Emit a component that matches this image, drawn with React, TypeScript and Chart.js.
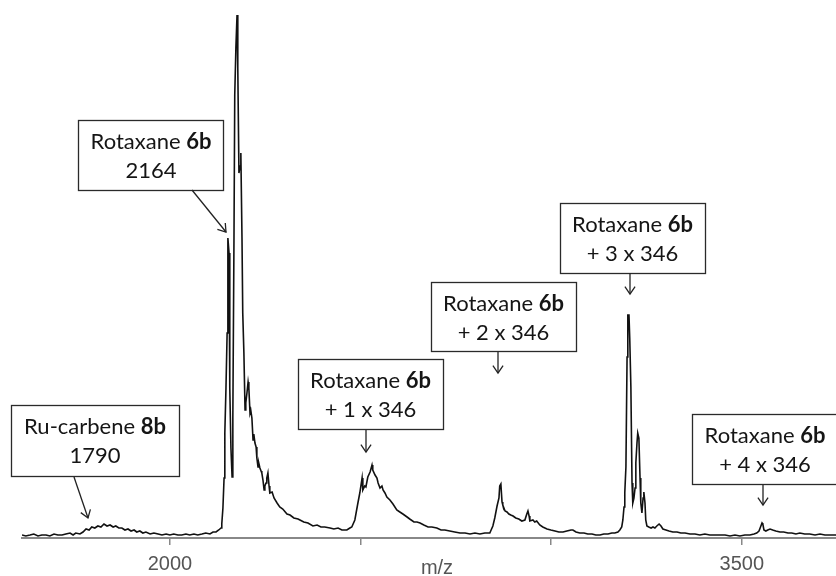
import React, { useEffect, useRef } from "react";
import { Chart, registerables } from "chart.js";

Chart.register(...registerables);

// m/z sampling positions of the spectrum trace
const mz = [
  1612, 1622, 1633, 1643, 1654, 1664, 1675, 1685, 1696, 1706,
  1717, 1727, 1738, 1746, 1753, 1764, 1772, 1780, 1788, 1795,
  1803, 1811, 1819, 1827, 1835, 1843, 1851, 1858, 1866, 1874,
  1882, 1890, 1898, 1906, 1913, 1921, 1929, 1937, 1948, 1958,
  1969, 1979, 1990, 2000, 2010, 2021, 2031, 2042, 2052, 2063,
  2073, 2084, 2094, 2105, 2113, 2121, 2128, 2134, 2136, 2139,
  2142, 2144, 2147, 2150, 2152, 2155, 2157, 2160, 2163, 2165,
  2168, 2170, 2173, 2176, 2178, 2181, 2184, 2186, 2189, 2191,
  2194, 2197, 2199, 2202, 2205, 2207, 2210, 2212, 2215, 2218,
  2220, 2223, 2226, 2228, 2231, 2233, 2236, 2239, 2241, 2244,
  2247, 2249, 2252, 2254, 2257, 2260, 2262, 2268, 2273, 2281,
  2288, 2296, 2307, 2315, 2325, 2336, 2341, 2351, 2362, 2375,
  2386, 2396, 2406, 2420, 2430, 2441, 2451, 2464, 2472, 2477,
  2485, 2493, 2498, 2504, 2506, 2511, 2514, 2519, 2525, 2530,
  2532, 2538, 2543, 2546, 2551, 2556, 2559, 2564, 2569, 2577,
  2585, 2595, 2603, 2611, 2622, 2629, 2640, 2648, 2656, 2666,
  2677, 2687, 2700, 2711, 2721, 2734, 2747, 2761, 2774, 2787,
  2800, 2813, 2826, 2839, 2847, 2852, 2858, 2863, 2865, 2868,
  2871, 2873, 2879, 2884, 2889, 2894, 2900, 2907, 2915, 2923,
  2931, 2936, 2939, 2942, 2944, 2952, 2957, 2962, 2970, 2978,
  2989, 2999, 3010, 3020, 3031, 3041, 3052, 3057, 3065, 3075,
  3086, 3096, 3107, 3117, 3128, 3138, 3149, 3159, 3167, 3175,
  3180, 3185, 3188, 3191, 3193, 3196, 3199, 3201, 3204, 3206,
  3209, 3212, 3214, 3217, 3220, 3222, 3225, 3227, 3230, 3233,
  3235, 3238, 3241, 3243, 3246, 3248, 3251, 3256, 3262, 3267,
  3272, 3277, 3283, 3288, 3293, 3301, 3309, 3319, 3330, 3340,
  3351, 3364, 3377, 3390, 3403, 3416, 3429, 3442, 3456, 3469,
  3482, 3495, 3508, 3521, 3532, 3539, 3545, 3550, 3553, 3555,
  3558, 3563, 3568, 3574, 3581, 3589, 3600, 3610, 3621, 3631,
  3642, 3652, 3665, 3678, 3692, 3705, 3718, 3731, 3747,
];

// intensity (arbitrary units) at each m/z position
const intensity = [
  3, 2, 3, 4, 2, 3, 3, 2, 4, 3,
  3, 4, 5, 3, 5, 4, 6, 9, 8, 11,
  10, 12, 11, 14, 12, 13, 11, 12, 10, 10,
  8, 9, 7, 8, 6, 7, 5, 6, 4, 5,
  4, 3, 4, 3, 4, 3, 3, 4, 3, 4,
  3, 4, 5, 4, 6, 6, 8, 10, 14, 30,
  60, 105, 150, 205, 300, 285, 150, 90, 61, 120,
  300, 443, 490, 523, 470, 365, 372, 385, 300, 225,
  185, 128, 135, 145, 156, 150, 125, 128, 120, 98,
  104, 95, 91, 80, 71, 75, 70, 67, 65, 58,
  48, 52, 55, 60, 65, 52, 45, 46, 40, 35,
  31, 29, 24, 23, 20, 19, 18, 16, 15, 12,
  13, 11, 11, 10, 9, 10, 8, 8, 10, 11,
  18, 35, 45, 60, 48, 52, 51, 61, 66, 73,
  68, 63, 60, 55, 50, 52, 48, 45, 41, 38,
  34, 28, 26, 24, 21, 19, 16, 16, 15, 13,
  11, 11, 10, 8, 8, 7, 6, 5, 5, 4,
  5, 4, 5, 5, 12, 20, 32, 40, 52, 54,
  36, 33, 27, 26, 24, 23, 22, 20, 19, 17,
  18, 24, 27, 22, 17, 18, 16, 17, 13, 11,
  9, 8, 7, 6, 6, 7, 8, 8, 6, 5,
  5, 4, 4, 3, 3, 4, 4, 5, 5, 6,
  8, 11, 18, 31, 45, 71, 181, 223, 223, 200,
  151, 55, 35, 40, 50, 75, 95, 105, 100, 60,
  35, 25, 40, 46, 35, 18, 12, 11, 10, 11,
  10, 12, 14, 12, 9, 8, 7, 6, 6, 5,
  5, 4, 4, 3, 4, 3, 3, 3, 3, 2,
  3, 2, 3, 3, 4, 5, 7, 12, 15, 14,
  8, 7, 8, 9, 8, 7, 6, 6, 5, 5,
  4, 5, 4, 4, 3, 4, 3, 3, 3,
];

const xMin = 1612;
const xMax = 3747;
const yMax = 538;
const xTicks = [2000, 2500, 3000, 3500];
const xTickLabels = ["2000", "", "", "3500"];
const xTitle = "m/z";

// annotation texts
const labelNames = ["Rotaxane ", "Ru-carbene ", "Rotaxane ", "Rotaxane ", "Rotaxane ", "Rotaxane "];
const labelBold = ["6b", "8b", "6b", "6b", "6b", "6b"];
const labelSecond = ["2164", "1790", "+ 1 x 346", "+ 2 x 346", "+ 3 x 346", "+ 4 x 346"];

// annotation layout (pixels): box [x, y, w, h], text centre x, arrow [x1, y1, x2, y2]
const boxLayout = [
  [78, 120, 145, 70],
  [11, 405, 168, 71],
  [298, 359, 145, 70],
  [431, 282, 145, 69],
  [560, 203, 145, 70],
  [692, 414, 146, 70],
];
const textCenterX = [151, 95, 370.5, 503.5, 632.5, 765];
const arrowLayout = [
  [192, 190, 226, 232],
  [74, 477, 88, 518],
  [366, 430, 366, 452],
  [498, 352, 498, 373],
  [630, 273, 630, 294],
  [763, 485, 763, 505],
];

function drawArrow(ctx: CanvasRenderingContext2D, x1: number, y1: number, x2: number, y2: number) {
  ctx.beginPath();
  ctx.moveTo(x1, y1);
  ctx.lineTo(x2, y2);
  ctx.stroke();
  const a = Math.atan2(y2 - y1, x2 - x1);
  const L = 9;
  const s = 0.6;
  ctx.beginPath();
  ctx.moveTo(x2 - L * Math.cos(a - s), y2 - L * Math.sin(a - s));
  ctx.lineTo(x2, y2);
  ctx.lineTo(x2 - L * Math.cos(a + s), y2 - L * Math.sin(a + s));
  ctx.stroke();
}

const annotationPlugin = {
  id: "spectrumAnnotations",
  afterDraw(chart: any) {
    const ctx: CanvasRenderingContext2D = chart.ctx;
    ctx.save();
    // axis title
    ctx.fillStyle = "#555";
    ctx.font = "20px 'Liberation Sans', Arial, sans-serif";
    ctx.textAlign = "center";
    ctx.textBaseline = "middle";
    ctx.fillText(xTitle, 437, 568);

    const normalFont = "22px Lato, 'Noto Sans', sans-serif";
    const boldFont = "bold 22px Lato, 'Noto Sans', sans-serif";
    for (let i = 0; i < boxLayout.length; i++) {
      const [bx, by, bw, bh] = boxLayout[i];
      ctx.fillStyle = "#ffffff";
      ctx.fillRect(bx, by, bw, bh);
      ctx.strokeStyle = "#2a2a2a";
      ctx.lineWidth = 1.3;
      ctx.strokeRect(bx + 0.5, by + 0.5, bw, bh);

      ctx.fillStyle = "#151515";
      ctx.textBaseline = "middle";
      ctx.font = normalFont;
      const w1 = ctx.measureText(labelNames[i]).width;
      ctx.font = boldFont;
      const w2 = ctx.measureText(labelBold[i]).width;
      const start = textCenterX[i] - (w1 + w2) / 2;
      ctx.textAlign = "left";
      ctx.font = normalFont;
      ctx.fillText(labelNames[i], start, by + 22);
      ctx.font = boldFont;
      ctx.fillText(labelBold[i], start + w1, by + 22);
      ctx.font = normalFont;
      ctx.textAlign = "center";
      ctx.fillText(labelSecond[i], textCenterX[i], by + 51);

      const [x1, y1, x2, y2] = arrowLayout[i];
      ctx.strokeStyle = "#222";
      ctx.lineWidth = 1.3;
      drawArrow(ctx, x1, y1, x2, y2);
    }
    ctx.restore();
  },
};

export default function App() {
  const canvasRef = useRef<HTMLCanvasElement | null>(null);

  useEffect(() => {
    if (!canvasRef.current) return;
    const points = mz.map((m, i) => ({ x: m, y: intensity[i] }));
    const chart = new Chart(canvasRef.current, {
      type: "line",
      data: {
        datasets: [
          {
            data: points,
            borderColor: "#111111",
            borderWidth: 1.6,
            pointRadius: 0,
            tension: 0,
            fill: false,
          },
        ],
      },
      options: {
        animation: false,
        responsive: true,
        maintainAspectRatio: false,
        layout: { padding: { left: 22, right: 0, top: 0, bottom: 0 } },
        plugins: {
          legend: { display: false },
          tooltip: { enabled: false },
          title: { display: false },
        },
        scales: {
          x: {
            type: "linear",
            position: "bottom",
            min: xMin,
            max: xMax,
            afterBuildTicks: (scale: any) => {
              scale.ticks = xTicks.map((v) => ({ value: v }));
            },
            afterFit: (scale: any) => {
              scale.height = 38;
            },
            ticks: {
              autoSkip: false,
              maxRotation: 0,
              padding: 7,
              color: "#555",
              font: { family: "'Liberation Sans', Arial, sans-serif", size: 20 },
              callback: (value: any) => {
                const idx = xTicks.indexOf(Number(value));
                return idx >= 0 ? xTickLabels[idx] : "";
              },
            },
            grid: {
              display: true,
              drawOnChartArea: false,
              drawTicks: true,
              tickLength: 7,
              color: "#888",
              lineWidth: 1.5,
            },
            border: { display: true, color: "#888", width: 2 },
            title: { display: false },
          },
          y: {
            display: false,
            min: 0,
            max: yMax,
          },
        },
      },
      plugins: [annotationPlugin],
    });
    return () => chart.destroy();
  }, []);

  return (
    <div style={{ position: "absolute", left: 0, top: 0, width: 836, height: 576, background: "#fff" }}>
      <canvas ref={canvasRef} />
    </div>
  );
}
